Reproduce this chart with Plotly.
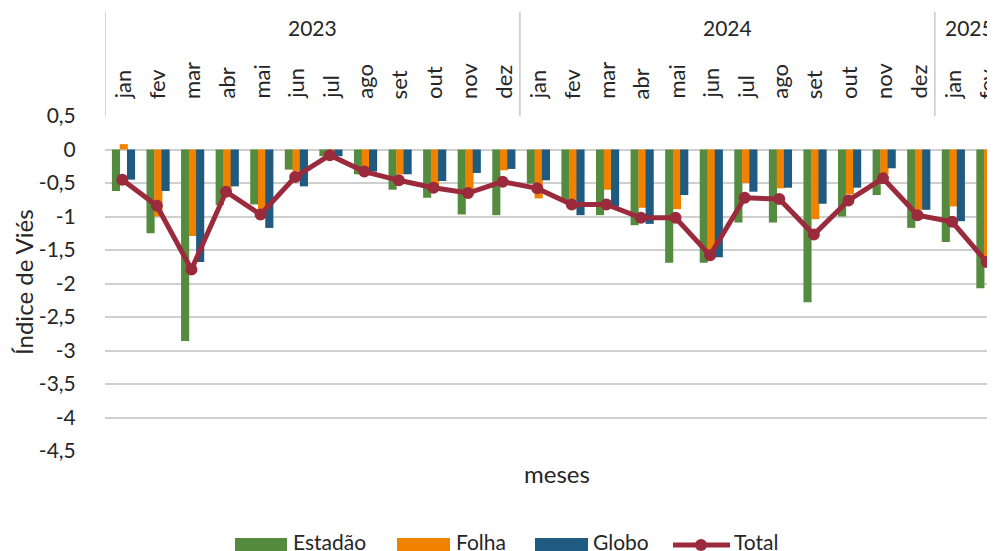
import plotly.graph_objects as go

years = ["2023", "2024", "2025"]
months = ["jan", "fev", "mar", "abr", "mai", "jun", "jul", "ago", "set", "out", "nov", "dez",
          "jan", "fev", "mar", "abr", "mai", "jun", "jul", "ago", "set", "out", "nov", "dez",
          "jan", "fev"]
year_of_month = ["2023"] * 12 + ["2024"] * 12 + ["2025"] * 2

estadao = [-0.62, -1.25, -2.86, -0.83, -0.82, -0.30, -0.10, -0.37, -0.60, -0.72, -0.97, -0.98,
           -0.51, -0.76, -0.98, -1.13, -1.69, -1.69, -1.09, -1.09, -2.28, -1.00, -0.68, -1.17,
           -1.38, -2.07]
folha = [0.08, -1.00, -1.29, -0.60, -0.90, -0.33, -0.05, -0.33, -0.37, -0.56, -0.63, -0.31,
         -0.73, -0.75, -0.60, -0.87, -0.89, -1.55, -0.50, -0.58, -1.04, -0.67, -0.37, -0.90,
         -0.85, -1.60]
globo = [-0.45, -0.62, -1.68, -0.55, -1.17, -0.55, -0.10, -0.33, -0.37, -0.47, -0.35, -0.29,
         -0.46, -0.98, -0.85, -1.11, -0.68, -1.61, -0.63, -0.57, -0.81, -0.57, -0.28, -0.90,
         -1.07, -1.38]
total = [-0.45, -0.84, -1.79, -0.63, -0.97, -0.41, -0.085, -0.33, -0.46, -0.57, -0.65, -0.48,
         -0.58, -0.82, -0.82, -1.02, -1.02, -1.58, -0.72, -0.74, -1.27, -0.76, -0.43, -0.98,
         -1.08, -1.68]

ytick_vals = [0.5, 0, -0.5, -1, -1.5, -2, -2.5, -3, -3.5, -4, -4.5]
ytick_text = ["0,5", "0", "-0,5", "-1", "-1,5", "-2", "-2,5", "-3", "-3,5", "-4", "-4,5"]

series = [("Estadão", estadao, "#548B3F", -0.30),
          ("Folha", folha, "#F08200", -0.075),
          ("Globo", globo, "#1F5A80", 0.135)]
TOTAL_COLOR = "#9B2A3C"

xs = list(range(len(months)))
FONT = "Lato"
TXT = "#262626"

# page has an 8px body margin: figure is drawn from (8, 8)
OFF = 8
W, H = 995 - OFF, 551 - OFF
PLOT_L, PLOT_T, PLOT_B = 105, 116, 451          # in page pixels
ML, MT, MB = PLOT_L - OFF, PLOT_T - OFF, H - (PLOT_B - OFF)
PW, PH = W - ML, H - MT - MB


def px_x(p):
    return (p - PLOT_L) / PW


def px_y(p):
    return (PLOT_B - p) / PH


fig = go.Figure()
bw = 0.235
for name, vals, col, off in series:
    fig.add_trace(go.Bar(x=xs, y=vals, name=name, marker=dict(color=col, line=dict(width=0)),
                         width=bw, offset=off, showlegend=False))
fig.add_trace(go.Scatter(x=xs, y=total, name="Total", mode="lines+markers",
                         line=dict(color=TOTAL_COLOR, width=5),
                         marker=dict(color=TOTAL_COLOR, size=12), showlegend=False))

annotations = []
shapes = []
# month labels on top
for i, m in enumerate(months):
    annotations.append(dict(x=i, y=px_y(101), xref="x", yref="paper", text=m, textangle=-90,
                            showarrow=False, xanchor="center", yanchor="bottom",
                            font=dict(family=FONT, size=22, color=TXT)))
# year labels and boxes
start = 0
for yr in years:
    n = year_of_month.count(yr)
    annotations.append(dict(x=start + (n - 1) / 2, y=px_y(27), xref="x", yref="paper", text=yr,
                            showarrow=False, xanchor="center", yanchor="middle",
                            font=dict(family=FONT, size=21, color=TXT)))
    shapes.append(dict(type="line", xref="x", yref="paper", x0=start - 0.5, x1=start - 0.5,
                       y0=1.0, y1=px_y(12), line=dict(color="#c8c8c8", width=1.5)))
    start += n

annotations.append(dict(x=px_x(557), y=px_y(473), xref="paper", yref="paper", text="meses",
                        showarrow=False, xanchor="center", yanchor="middle",
                        font=dict(family=FONT, size=24, color=TXT)))
annotations.append(dict(x=px_x(23), y=px_y(282), xref="paper", yref="paper", text="Índice de Viés",
                        textangle=-90, showarrow=False, xanchor="center", yanchor="middle",
                        font=dict(family=FONT, size=24, color=TXT)))

# legend (drawn manually to mimic wide swatches)
leg_y = 545
leg_ty = 541
leg_items = [(series[0][0], series[0][2], 235, 287, 292),
             (series[1][0], series[1][2], 397, 450, 455),
             (series[2][0], series[2][2], 535, 588, 592)]
for name, col, x0, x1, tx in leg_items:
    shapes.append(dict(type="rect", xref="paper", yref="paper", x0=px_x(x0), x1=px_x(x1),
                       y0=px_y(553), y1=px_y(538), fillcolor=col, line=dict(width=0)))
    annotations.append(dict(x=px_x(tx), y=px_y(leg_ty), xref="paper", yref="paper", text=name,
                            showarrow=False, xanchor="left", yanchor="middle",
                            height=18, borderpad=0, valign="middle",
                            font=dict(family=FONT, size=21, color=TXT)))
shapes.append(dict(type="line", xref="paper", yref="paper", x0=px_x(673), x1=px_x(730),
                   y0=px_y(leg_y), y1=px_y(leg_y), line=dict(color=TOTAL_COLOR, width=5)))
shapes.append(dict(type="circle", xref="paper", yref="paper", x0=px_x(695), x1=px_x(707),
                   y0=px_y(leg_y + 6), y1=px_y(leg_y - 6), fillcolor=TOTAL_COLOR,
                   line=dict(width=0)))
annotations.append(dict(x=px_x(733), y=px_y(leg_ty), xref="paper", yref="paper", text="Total",
                        showarrow=False, xanchor="left", yanchor="middle",
                        height=18, borderpad=0, valign="middle",
                        font=dict(family=FONT, size=21, color=TXT)))

fig.update_layout(
    width=W, height=H,
    margin=dict(l=ML, r=0, t=MT, b=MB, autoexpand=False),
    paper_bgcolor="white", plot_bgcolor="white",
    barmode="overlay",
    showlegend=False,
    xaxis=dict(range=[-0.5, 25.24], showticklabels=False, showgrid=False, zeroline=False,
               showline=False, fixedrange=True),
    yaxis=dict(range=[-4.5, 0.5], tickvals=ytick_vals, ticktext=ytick_text,
               showgrid=True, gridcolor="#cfcfcf", gridwidth=1.8, zeroline=False,
               showline=False, ticks="outside", ticklen=24, tickcolor="rgba(0,0,0,0)",
               tickfont=dict(family=FONT, size=21, color=TXT)),
    annotations=annotations,
    shapes=shapes,
    font=dict(family=FONT),
)

fig.write_html("out.html")
